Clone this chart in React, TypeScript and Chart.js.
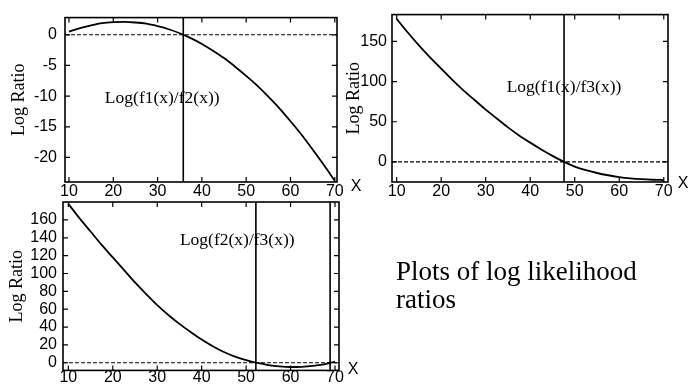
import React, { useEffect, useRef } from "react";
import { Chart, registerables } from "chart.js";

Chart.register(...registerables);

const PAGE_W = 689;
const PAGE_H = 386;

// ---- data ----
const X_VALUES = [10, 12.5, 15, 17.5, 20, 22.5, 25, 27.5, 30, 32.5, 35, 37.5, 40, 42.5, 45, 47.5, 50, 52.5, 55, 57.5, 60, 62.5, 65, 67.5, 70];
const X_TICKS = [10, 20, 30, 40, 50, 60, 70];

const P1_NAME = "Log(f1(x)/f2(x))";
const P1_Y = [0.5, 1.1, 1.55, 1.9, 2.05, 2.1, 2.0, 1.8, 1.4, 0.9, 0.25, -0.55, -1.5, -2.6, -3.8, -5.2, -6.7, -8.3, -10.1, -12.0, -14.1, -16.3, -18.7, -21.2, -23.8];
const P1_Y_TICKS = [-20, -15, -10, -5, 0];
const P1_ROOTS = [35.8];

const P2_NAME = "Log(f1(x)/f3(x))";
const P2_Y = [178, 161, 145, 130, 116, 102, 89, 77, 65, 54, 43, 33, 24, 15.5, 7.5, 0.3, -5.8, -10.3, -13.8, -16.6, -18.8, -20.4, -21.5, -22.2, -22.6];
const P2_Y_TICKS = [0, 50, 100, 150];
const P2_ROOTS = [47.6];

const P3_NAME = "Log(f2(x)/f3(x))";
const P3_Y = [178, 162, 147, 132, 118, 104, 90, 77, 64.5, 53.5, 43.5, 34.5, 26, 18.5, 12, 6.8, 2.8, -0.3, -2.6, -4.1, -4.8, -4.6, -3.6, -1.8, 1.2];
const P3_Y_TICKS = [0, 20, 40, 60, 80, 100, 120, 140, 160];
const P3_ROOTS = [52.2, 68.9];

const CAPTION_LINES = ["Plots of log likelihood", "ratios"];

// ---- styling ----
const SANS = "'Liberation Sans Narrow', 'Liberation Sans', Arial, sans-serif";
const SERIF = "'Liberation Serif', 'Times New Roman', serif";

type Spec = {
  name: string;
  ys: number[];
  yTicks: number[];
  roots: number[];
  xMin: number; xMax: number; yMin: number; yMax: number;
  area: { l: number; t: number; r: number; b: number };
  yAxisW: number; xAxisH: number;
  yPad: number; xPad: number; titlePad: number;
  labelAt: [number, number];
  xLabelOff: [number, number];
};

const SPECS: Spec[] = [
  {
    name: P1_NAME, ys: P1_Y, yTicks: P1_Y_TICKS, roots: P1_ROOTS,
    xMin: 9.1, xMax: 70.5, yMin: -24, yMax: 2.8,
    area: { l: 65, t: 13, r: 337, b: 182 },
    yAxisW: 60, xAxisH: 20, yPad: 8, xPad: 0, titlePad: 3,
    labelAt: [18.1, -11.1], xLabelOff: [19, 5],
  },
  {
    name: P2_NAME, ys: P2_Y, yTicks: P2_Y_TICKS, roots: P2_ROOTS,
    xMin: 8.95, xMax: 70.95, yMin: -25, yMax: 183.3,
    area: { l: 392, t: 13, r: 668, b: 182 },
    yAxisW: 50, xAxisH: 20, yPad: 5, xPad: 0, titlePad: 1.5,
    labelAt: [34.7, 87.5], xLabelOff: [15, 2],
  },
  {
    name: P3_NAME, ys: P3_Y, yTicks: P3_Y_TICKS, roots: P3_ROOTS,
    xMin: 8.8, xMax: 70.9, yMin: -8.6, yMax: 180.1,
    area: { l: 63, t: 202, r: 339, b: 371 },
    yAxisW: 60, xAxisH: 14, yPad: 6, xPad: -2, titlePad: 3.5,
    labelAt: [35.1, 132], xLabelOff: [14, -1],
  },
];

function makePlugin(spec: Spec) {
  return {
    id: "frameAndLabels",
    afterDraw(chart: any) {
      const { ctx, chartArea: a, scales } = chart;
      const xs = scales.x;
      const ys = scales.y;
      ctx.save();
      ctx.strokeStyle = "#000";
      ctx.lineWidth = 1.6;
      ctx.strokeRect(a.left, a.top, a.right - a.left, a.bottom - a.top);
      ctx.lineWidth = 1.2;
      ctx.beginPath();
      xs.ticks.forEach((t: any) => {
        const px = xs.getPixelForValue(t.value);
        ctx.moveTo(px, a.top);
        ctx.lineTo(px, a.top + 5);
        ctx.moveTo(px, a.bottom);
        ctx.lineTo(px, a.bottom - 5);
      });
      ys.ticks.forEach((t: any) => {
        const py = ys.getPixelForValue(t.value);
        ctx.moveTo(a.left, py);
        ctx.lineTo(a.left + 5, py);
        ctx.moveTo(a.right, py);
        ctx.lineTo(a.right - 5, py);
      });
      ctx.stroke();
      ctx.fillStyle = "#000";
      ctx.font = `17.5px ${SERIF}`;
      ctx.textAlign = "left";
      ctx.textBaseline = "alphabetic";
      ctx.fillText(spec.name, xs.getPixelForValue(spec.labelAt[0]), ys.getPixelForValue(spec.labelAt[1]));
      ctx.font = `16px ${SANS}`;
      ctx.textAlign = "center";
      ctx.textBaseline = "middle";
      ctx.fillText("X", a.right + spec.xLabelOff[0], a.bottom + spec.xLabelOff[1]);
      ctx.restore();
    },
  };
}

function Panel({ spec }: { spec: Spec }) {
  const ref = useRef<HTMLCanvasElement | null>(null);
  useEffect(() => {
    if (!ref.current) return;
    const curve = X_VALUES.map((x, i) => ({ x, y: spec.ys[i] }));
    const datasets: any[] = [
      {
        data: [{ x: spec.xMin, y: 0 }, { x: spec.xMax, y: 0 }],
        borderColor: "#000", borderWidth: 1.1, borderDash: [4, 2], pointRadius: 0,
      },
      ...spec.roots.map((r) => ({
        data: [{ x: r, y: spec.yMin }, { x: r, y: spec.yMax }],
        borderColor: "#000", borderWidth: 1.6, pointRadius: 0,
      })),
      {
        data: curve,
        borderColor: "#000", borderWidth: 1.8, pointRadius: 0,
        cubicInterpolationMode: "monotone",
      },
    ];
    const { area } = spec;
    const chart = new Chart(ref.current, {
      type: "line",
      data: { datasets },
      options: {
        animation: false,
        responsive: false,
        devicePixelRatio: 1,
        layout: {
          padding: {
            left: area.l - spec.yAxisW,
            top: area.t,
            right: PAGE_W - area.r,
            bottom: PAGE_H - area.b - spec.xAxisH,
          },
        },
        plugins: { legend: { display: false }, tooltip: { enabled: false } },
        scales: {
          x: {
            type: "linear",
            min: spec.xMin,
            max: spec.xMax,
            afterBuildTicks: (s: any) => { s.ticks = X_TICKS.map((v) => ({ value: v })); },
            afterFit: (s: any) => { s.height = spec.xAxisH; },
            grid: { display: false, drawTicks: false },
            border: { display: false },
            ticks: { font: { family: SANS, size: 16 }, color: "#000", padding: spec.xPad, autoSkip: false, maxRotation: 0 },
          },
          y: {
            type: "linear",
            min: spec.yMin,
            max: spec.yMax,
            afterBuildTicks: (s: any) => { s.ticks = spec.yTicks.map((v) => ({ value: v })); },
            afterFit: (s: any) => { s.width = spec.yAxisW; },
            grid: { display: false, drawTicks: false },
            border: { display: false },
            ticks: { font: { family: SANS, size: 16 }, color: "#000", padding: spec.yPad, autoSkip: false },
            title: {
              display: true,
              text: "Log Ratio",
              color: "#000",
              font: { family: SERIF, size: 18 },
              padding: { top: spec.titlePad, bottom: 0 },
            },
          },
        },
      } as any,
      plugins: [makePlugin(spec)],
    });
    return () => chart.destroy();
  }, [spec]);
  return (
    <canvas
      ref={ref}
      width={PAGE_W}
      height={PAGE_H}
      style={{ position: "absolute", left: 0, top: 0, width: PAGE_W, height: PAGE_H }}
    />
  );
}

export default function App() {
  return (
    <div style={{ position: "absolute", left: 0, top: 0, width: PAGE_W, height: PAGE_H, background: "#fff", overflow: "hidden" }}>
      {SPECS.map((s, i) => (
        <Panel key={i} spec={s} />
      ))}
      <div
        style={{
          position: "absolute",
          left: 396,
          top: 257,
          fontFamily: SERIF,
          fontSize: 27,
          lineHeight: "28px",
          color: "#000",
          whiteSpace: "nowrap",
        }}
      >
        {CAPTION_LINES[0]}
        <br />
        {CAPTION_LINES[1]}
      </div>
    </div>
  );
}
